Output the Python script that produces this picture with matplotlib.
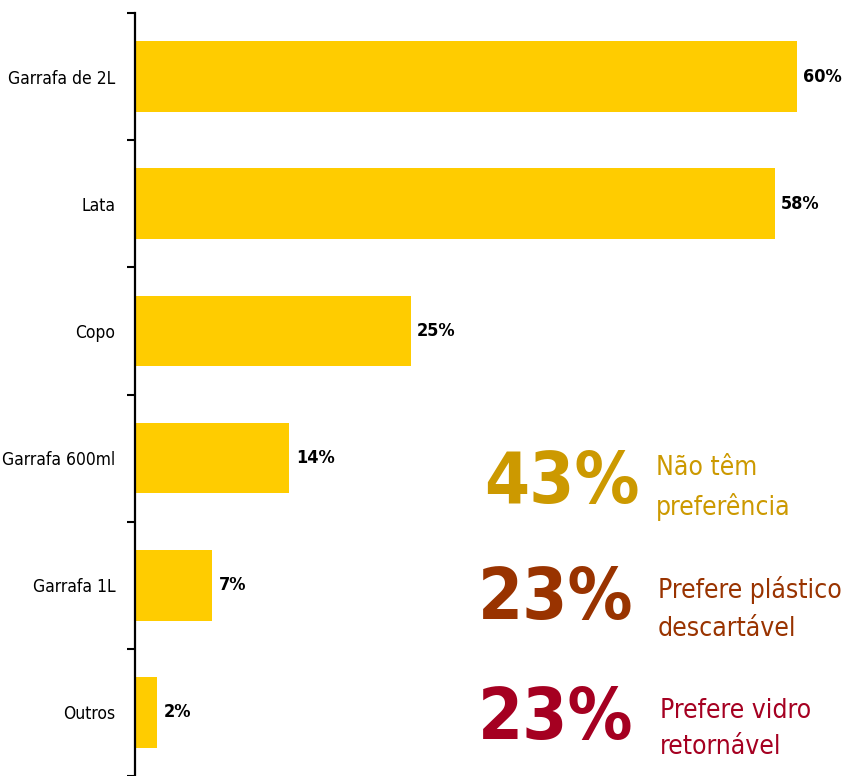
"""
Preferência de embalagem: barras horizontais com destaques à direita.
"""
import matplotlib
matplotlib.use('Agg')
import matplotlib.pyplot as plt
from matplotlib import font_manager

# Dados
categories = ['Garrafa de 2L', 'Lata', 'Copo', 'Garrafa 600ml', 'Garrafa 1L', 'Outros']
values = [60, 58, 25, 14, 7, 2]

highlight_numbers = ['43%', '23%', '23%']
highlight_labels = ['Não têm\npreferência', 'Prefere plástico\ndescartável', 'Prefere vidro\nretornável']
highlight_colors = ['#CC9900', '#993300', '#A50021']

BAR_COLOR = '#FFCC00'
W, H = 846, 776


def pick_font():
    """Escolhe uma fonte estreita se houver uma instalada."""
    names = {f.name for f in font_manager.fontManager.ttflist}
    for name in ['Liberation Sans Narrow', 'DejaVu Sans']:
        if name in names:
            return name
    return 'DejaVu Sans'


FONT = pick_font()
STRETCH = 'condensed'

fig = plt.figure(figsize=(W / 100, H / 100), dpi=100)
ax = fig.add_axes([135 / W, 0, 1 - 135 / W, 1 - 13 / H])

pos = list(range(len(categories)))
ax.barh(pos, values, height=0.555, color=BAR_COLOR)
ax.set_xlim(0, 64.45)
ax.set_ylim(5.461, -0.5)

# Rótulos de valor
for y, v in zip(pos, values):
    ax.annotate(f'{v}%', (v, y), xytext=(4.5, 0), textcoords='offset points',
                ha='left', va='center', fontsize=13, fontweight='bold',
                family=FONT, fontstretch=STRETCH, color='black')

# Eixo y: marcas nas divisões, rótulos no centro
ax.set_yticks([p - 0.5 for p in pos] + [len(pos) - 0.5])
ax.set_yticklabels([])
ax.set_yticks(pos, minor=True)
ax.set_yticklabels(categories, minor=True, fontsize=12.5, family=FONT,
                   fontstretch=STRETCH)
ax.tick_params(axis='y', which='major', length=6, width=1.5, color='black')
ax.tick_params(axis='y', which='minor', length=0, pad=14)
ax.xaxis.set_visible(False)
for side in ['top', 'right', 'bottom']:
    ax.spines[side].set_visible(False)
ax.spines['left'].set_linewidth(1.6)

# Destaques à direita
num_x = [640, 633, 633]
num_y = [484, 600, 720]
lab_x = [656, 658, 660]
lab_y = [488, 609, 729]
for i in range(len(highlight_numbers)):
    fig.text(num_x[i] / W, 1 - num_y[i] / H, highlight_numbers[i],
             ha='right', va='center', fontsize=52, fontweight='bold',
             family=FONT, fontstretch=STRETCH, color=highlight_colors[i])
    fig.text(lab_x[i] / W, 1 - lab_y[i] / H, highlight_labels[i],
             ha='left', va='center', fontsize=19, linespacing=1.55,
             family=FONT, fontstretch=STRETCH, color=highlight_colors[i])

fig.savefig('out.png', dpi=100)
